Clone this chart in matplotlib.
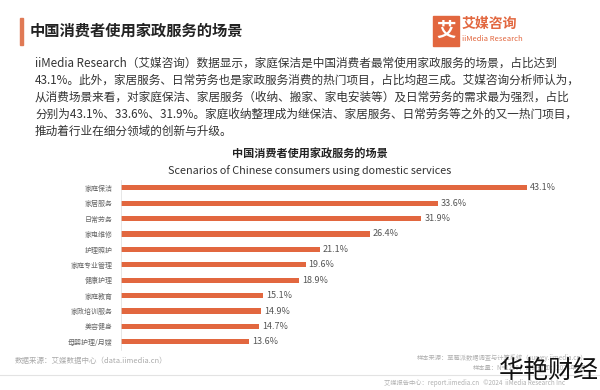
import matplotlib
matplotlib.use("Agg")
import matplotlib.pyplot as plt
from matplotlib.patches import Rectangle

plt.rcParams['font.family'] = ['Noto Sans CJK SC', 'DejaVu Sans']

# data
categories = ['家庭保洁', '家居服务', '日常劳务', '家电维修', '护理照护', '家庭专业管理',
              '健康护理', '家庭教育', '家政培训服务', '美容健身', '母婴护理/月嫂']
values = [43.1, 33.6, 31.9, 26.4, 21.1, 19.6, 18.9, 15.1, 14.9, 14.7, 13.6]

paragraph = [
    'iiMedia Research（艾媒咨询）数据显示，家庭保洁是中国消费者最常使用家政服务的场景，占比达到',
    '43.1%。此外，家居服务、日常劳务也是家政服务消费的热门项目，占比均超三成。艾媒咨询分析师认为，',
    '从消费场景来看，对家庭保洁、家居服务（收纳、搬家、家电安装等）及日常劳务的需求最为强烈，占比',
    '分别为43.1%、33.6%、31.9%。家庭收纳整理成为继保洁、家居服务、日常劳务等之外的又一热门项目，',
    '推动着行业在细分领域的创新与升级。',
]

bar_color = '#E2673F'
W, H = 600, 390

fig = plt.figure(figsize=(6, 3.9), dpi=100)
fig.patch.set_facecolor('white')

# header
fig.patches.append(Rectangle((20 / W, 1 - 45 / H), 3 / W, 27 / H, transform=fig.transFigure,
                             color='#E07A55', zorder=2))
fig.text(30 / W, 1 - 31 / H, '中国消费者使用家政服务的场景', fontsize=11, fontweight='bold',
         color='#222222', va='center')

# logo
fig.patches.append(Rectangle((433 / W, 1 - 46 / H), 26 / W, 30 / H, transform=fig.transFigure,
                             color='#E2673F', zorder=2))
fig.text(446 / W, 1 - 31 / H, '艾', fontsize=14, fontweight='bold', color='white',
         ha='center', va='center', zorder=3)
fig.text(462 / W, 1 - 24 / H, '艾媒咨询', fontsize=10, fontweight='bold', color='#E2673F',
         va='center')
fig.text(462 / W, 1 - 39 / H, 'iiMedia Research', fontsize=5.5, color='#E2673F', va='center')

# paragraph
for i, line in enumerate(paragraph):
    fig.text(35 / W, 1 - (63 + i * 17) / H, line, fontsize=8.4, color='#333333', va='center')

# chart titles
fig.text(310 / W, 1 - 154 / H, '中国消费者使用家政服务的场景', fontsize=8, fontweight='bold',
         color='#222222', ha='center', va='center')
fig.text(310 / W, 1 - 171 / H, 'Scenarios of Chinese consumers using domestic services',
         fontsize=7.8, color='#333333', ha='center', va='center')

# bars
ax = fig.add_axes([121 / W, 1 - 349.5 / H, 471 / W, 169.4 / H])
y = list(range(len(categories)))
ax.barh(y, values, height=0.33, color=bar_color)
ax.set_xlim(0, 50)
ax.set_ylim(len(categories) - 0.5, -0.5)
ax.set_yticks(y)
ax.set_yticklabels(categories, fontsize=5, color='#666666')
ax.tick_params(axis='y', length=0, pad=6)
ax.set_xticks([])
for s in ax.spines.values():
    s.set_visible(False)
ax.spines['left'].set_visible(True)
ax.spines['left'].set_color('#dddddd')
ax.spines['left'].set_linewidth(0.5)
for yi, v in zip(y, values):
    ax.text(v + 0.3, yi, f'{v}%', fontsize=6.5, color='#555555', va='center')

# footer
fig.text(15 / W, 1 - 361 / H, '数据来源：艾媒数据中心（data.iimedia.cn）', fontsize=5.4,
         color='#aaaaaa', va='center')
fig.text(587 / W, 1 - 358 / H, '样本来源：草莓派数据调查与计算系统（survey.iimedia.cn）',
         fontsize=4.5, color='#b0b0b0', ha='right', va='center')
fig.text(587 / W, 1 - 368 / H, '样本量：N=1250；调研时间：2024年9月', fontsize=4.5,
         color='#b0b0b0', ha='right', va='center')
fig.lines.append(plt.Line2D([0, 1], [1 - 375 / H, 1 - 375 / H], transform=fig.transFigure,
                            color='#e3e3e3', linewidth=0.8))
fig.text(475 / W, 1 - 383 / H, '艾媒报告中心：report.iimedia.cn   ©2024  iiMedia Research Inc',
         fontsize=4.5, color='#b0b0b0', ha='center', va='center')

# watermark
fig.text(599 / W, 1 - 371 / H, '华艳财经', fontsize=18, color='#111111', ha='right',
         va='center', fontweight='light')

fig.savefig('out.png', dpi=100)
